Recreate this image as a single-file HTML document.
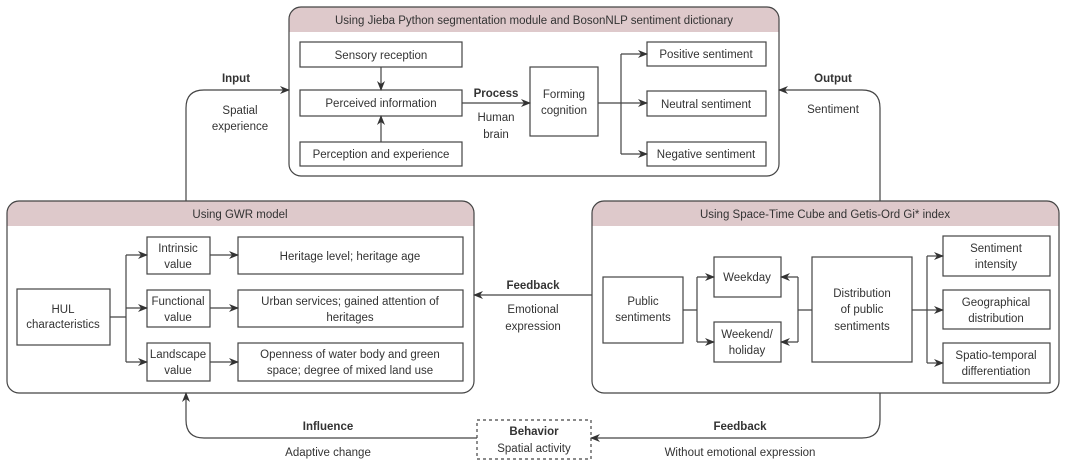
<!DOCTYPE html>
<html><head><meta charset="utf-8"><style>
html,body{margin:0;padding:0;background:#fff}
svg{display:block}
text{font-family:"Liberation Sans",sans-serif;font-size:11.5px;fill:#333}
.b{font-weight:bold}
</style></head><body>
<svg width="1066" height="468" viewBox="0 0 1066 468" xmlns="http://www.w3.org/2000/svg">
<defs>
<marker id="a" markerWidth="10" markerHeight="8" refX="9" refY="4" orient="auto" markerUnits="userSpaceOnUse">
<path d="M0,0 L10,4 L0,8 L3,4 Z" fill="#333"/></marker>
<clipPath id="c1"><rect x="289" y="7" width="490" height="169" rx="12"/></clipPath>
<clipPath id="c2"><rect x="7" y="201" width="467" height="192" rx="12"/></clipPath>
<clipPath id="c3"><rect x="592" y="201" width="467" height="192" rx="12"/></clipPath>
</defs>
<g fill="none" stroke="#444" stroke-width="1.2">
<rect x="289" y="7" width="490" height="25" fill="#dec9cb" stroke="none" clip-path="url(#c1)"/>
<rect x="289" y="7" width="490" height="169" rx="12"/>
<rect x="7" y="201" width="467" height="25" fill="#dec9cb" stroke="none" clip-path="url(#c2)"/>
<rect x="7" y="201" width="467" height="192" rx="12"/>
<rect x="592" y="201" width="467" height="25" fill="#dec9cb" stroke="none" clip-path="url(#c3)"/>
<rect x="592" y="201" width="467" height="192" rx="12"/>
<rect x="300" y="42" width="162" height="25"/>
<rect x="300" y="90" width="162" height="26"/>
<rect x="300" y="142" width="162" height="24"/>
<rect x="530" y="67" width="68" height="69"/>
<rect x="647" y="42" width="119" height="24"/>
<rect x="647" y="91" width="119" height="25"/>
<rect x="647" y="142" width="119" height="24"/>
<path d="M381,67 V90" marker-end="url(#a)"/>
<path d="M381,142 V116" marker-end="url(#a)"/>
<path d="M462,103 H530" marker-end="url(#a)"/>
<path d="M598,103 H621 M621,54 V154"/>
<path d="M621,54 H647" marker-end="url(#a)"/><path d="M621,103 H647" marker-end="url(#a)"/><path d="M621,154 H647" marker-end="url(#a)"/>
<rect x="17" y="289" width="93" height="56"/>
<rect x="147" y="237" width="63" height="37"/>
<rect x="147" y="290" width="63" height="37"/>
<rect x="147" y="343" width="63" height="38"/>
<rect x="238" y="237" width="225" height="37"/>
<rect x="238" y="290" width="225" height="37"/>
<rect x="238" y="343" width="225" height="38"/>
<path d="M110,317 H126 M126,255 V362"/>
<path d="M126,255 H147" marker-end="url(#a)"/><path d="M126,308 H147" marker-end="url(#a)"/><path d="M126,362 H147" marker-end="url(#a)"/>
<path d="M210,255 H238" marker-end="url(#a)"/><path d="M210,308 H238" marker-end="url(#a)"/><path d="M210,362 H238" marker-end="url(#a)"/>
<rect x="603" y="277" width="80" height="66"/>
<rect x="714" y="257" width="67" height="40"/>
<rect x="714" y="322" width="67" height="40"/>
<rect x="812" y="257" width="100" height="105"/>
<rect x="943" y="236" width="107" height="40"/>
<rect x="943" y="290" width="107" height="39"/>
<rect x="943" y="343" width="107" height="40"/>
<path d="M683,310 H697 M697,277 V342"/>
<path d="M697,277 H714" marker-end="url(#a)"/><path d="M697,342 H714" marker-end="url(#a)"/>
<path d="M812,310 H798 M798,277 V342"/>
<path d="M798,277 H781" marker-end="url(#a)"/><path d="M798,342 H781" marker-end="url(#a)"/>
<path d="M912,310 H927 M927,256 V363"/>
<path d="M927,256 H943" marker-end="url(#a)"/><path d="M927,310 H943" marker-end="url(#a)"/><path d="M927,363 H943" marker-end="url(#a)"/>
<path d="M186,201 V108 Q186,90 204,90 H289" marker-end="url(#a)"/>
<path d="M880,201 V108 Q880,90 862,90 H779" marker-end="url(#a)"/>
<path d="M592,295 H474" marker-end="url(#a)"/>
<path d="M880,393 V420 Q880,438 862,438 H591" marker-end="url(#a)"/>
<path d="M477,438 H204 Q186,438 186,420 V393" marker-end="url(#a)"/>
<rect x="477" y="420" width="114" height="39" stroke-dasharray="3,3"/>
</g>
<g text-anchor="middle">
<text x="534" y="24">Using Jieba Python segmentation module and BosonNLP sentiment dictionary</text>
<text x="240" y="218">Using GWR model</text>
<text x="825" y="218">Using Space-Time Cube and Getis-Ord Gi* index</text>
<text x="381" y="59">Sensory reception</text>
<text x="381" y="107">Perceived information</text>
<text x="381" y="158">Perception and experience</text>
<text x="564" y="98">Forming</text><text x="564" y="114">cognition</text>
<text x="706" y="58">Positive sentiment</text>
<text x="706" y="108">Neutral sentiment</text>
<text x="706" y="158">Negative sentiment</text>
<text x="496" y="97" class="b">Process</text>
<text x="496" y="121">Human</text><text x="496" y="138">brain</text>
<text x="236" y="82" class="b">Input</text>
<text x="240" y="114">Spatial</text><text x="240" y="130">experience</text>
<text x="833" y="82" class="b">Output</text>
<text x="833" y="113">Sentiment</text>
<text x="63" y="313">HUL</text><text x="63" y="328">characteristics</text>
<text x="178" y="252">Intrinsic</text><text x="178" y="268">value</text>
<text x="178" y="305">Functional</text><text x="178" y="321">value</text>
<text x="178" y="358">Landscape</text><text x="178" y="374">value</text>
<text x="350" y="260">Heritage level; heritage age</text>
<text x="350" y="305">Urban services; gained attention of</text><text x="350" y="321">heritages</text>
<text x="350" y="358">Openness of water body and green</text><text x="350" y="374">space; degree of mixed land use</text>
<text x="533" y="289" class="b">Feedback</text>
<text x="533" y="313">Emotional</text><text x="533" y="330">expression</text>
<text x="643" y="305">Public</text><text x="643" y="321">sentiments</text>
<text x="747" y="281">Weekday</text>
<text x="747" y="338">Weekend/</text><text x="747" y="354">holiday</text>
<text x="862" y="297">Distribution</text><text x="862" y="313">of public</text><text x="862" y="330">sentiments</text>
<text x="996" y="252">Sentiment</text><text x="996" y="268">intensity</text>
<text x="996" y="306">Geographical</text><text x="996" y="322">distribution</text>
<text x="996" y="359">Spatio-temporal</text><text x="996" y="375">differentiation</text>
<text x="328" y="430" class="b">Influence</text>
<text x="328" y="456">Adaptive change</text>
<text x="534" y="435" class="b">Behavior</text>
<text x="534" y="452">Spatial activity</text>
<text x="740" y="430" class="b">Feedback</text>
<text x="740" y="456">Without emotional expression</text>
</g>
</svg>
</body></html>
